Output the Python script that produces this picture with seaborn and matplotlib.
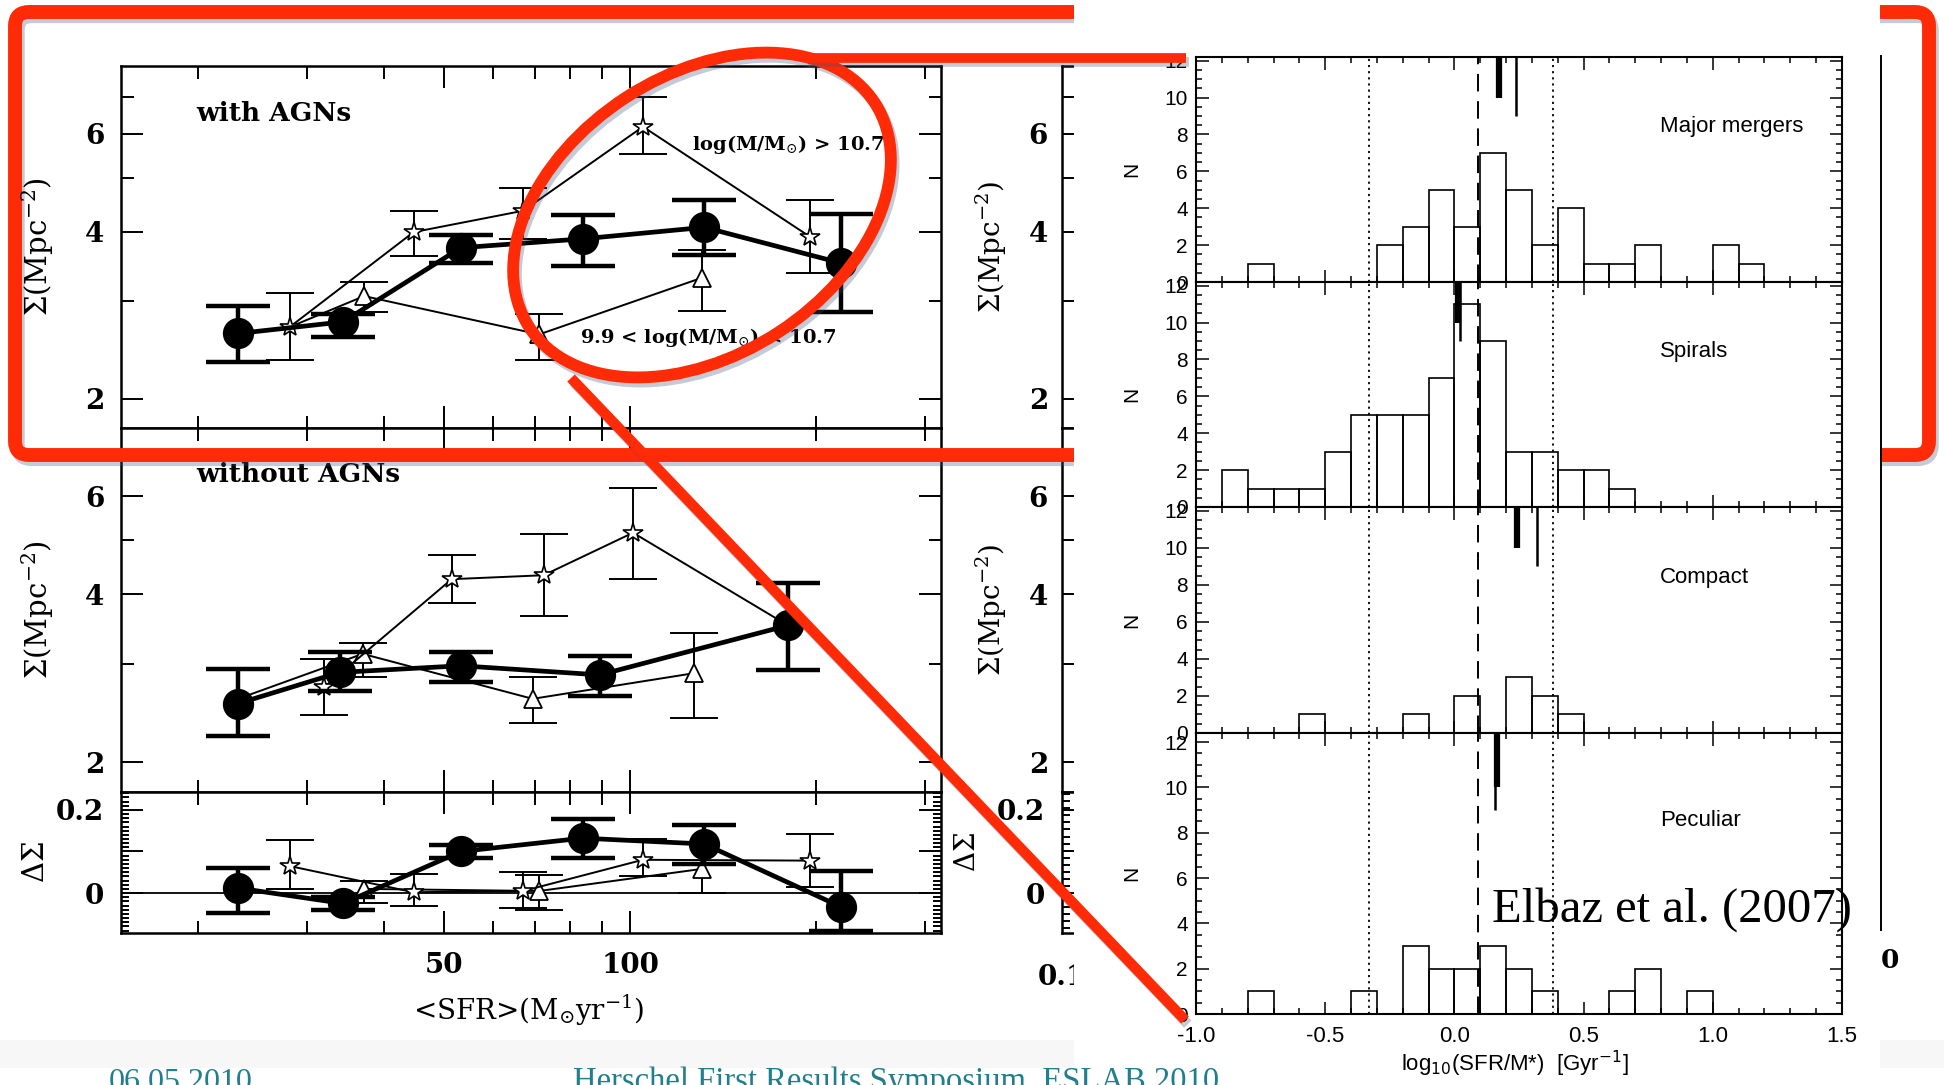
import numpy as np
import pandas as pd
import matplotlib
matplotlib.use('Agg')
import matplotlib.pyplot as plt
import seaborn as sns
from matplotlib.patches import Rectangle, Ellipse, FancyBboxPatch
from matplotlib.lines import Line2D
import matplotlib.patheffects as pe
from matplotlib.ticker import NullFormatter, MultipleLocator

# ------------------------------------------------------------------ data
# left figure: with AGNs (top panel)
agn_all_sfr = [23.2, 34.3, 53.2, 83.7, 131.7, 219.0]
agn_all_sig = [2.62, 2.75, 3.74, 3.88, 4.07, 3.51]
agn_all_lo = [2.33, 2.58, 3.51, 3.46, 3.63, 2.86]
agn_all_hi = [2.94, 2.84, 3.94, 4.29, 4.56, 4.30]

agn_hi_sfr = [28.1, 44.6, 67.1, 104.8, 195.5]
agn_hi_sig = [2.69, 3.99, 4.36, 6.18, 3.91]
agn_hi_lo = [2.35, 3.62, 3.88, 5.52, 3.37]
agn_hi_hi = [3.10, 4.36, 4.80, 7.00, 4.56]

agn_mid_sfr = [28.1, 37.1, 71.2, 130.4]
agn_mid_sig = [2.69, 3.06, 2.61, 3.30]
agn_mid_lo = [None, 2.86, 2.35, 2.88]
agn_mid_hi = [None, 3.24, 2.84, 3.71]

# without AGNs (middle panel)
noagn_all_sfr = [23.2, 33.9, 53.2, 89.2, 179.8]
noagn_all_sig = [2.55, 2.90, 2.98, 2.87, 3.52]
noagn_all_lo = [2.23, 2.68, 2.79, 2.63, 2.93]
noagn_all_hi = [2.94, 3.15, 3.16, 3.10, 4.20]

noagn_hi_sfr = [32.0, 51.4, 72.4, 101.0, 179.8]
noagn_hi_sig = [2.73, 4.26, 4.33, 5.16, 3.52]
noagn_hi_lo = [2.43, 3.86, 3.66, 4.26, None]
noagn_hi_hi = [3.06, 4.70, 5.14, 6.21, None]

noagn_mid_sfr = [23.2, 36.9, 69.5, 126.8]
noagn_mid_sig = [2.60, 3.13, 2.60, 2.89]
noagn_mid_lo = [None, 2.85, 2.35, 2.40]
noagn_mid_hi = [None, 3.27, 2.85, 3.41]

# Delta Sigma panel
dsig_all_sfr = [23.2, 34.3, 53.2, 83.7, 131.7, 219.0]
dsig_all = [0.012, -0.025, 0.100, 0.132, 0.118, -0.033]
dsig_all_lo = [-0.048, -0.040, 0.085, 0.085, 0.070, -0.090]
dsig_all_hi = [0.060, -0.010, 0.115, 0.178, 0.163, 0.052]

dsig_hi_sfr = [28.1, 44.6, 67.1, 104.8, 195.5]
dsig_hi = [0.065, 0.002, 0.005, 0.080, 0.078]
dsig_hi_lo = [0.010, -0.030, -0.037, 0.040, 0.015]
dsig_hi_hi = [0.128, 0.045, 0.050, 0.130, 0.142]

dsig_mid_sfr = [37.1, 71.2, 130.4]
dsig_mid = [0.010, 0.005, 0.058]
dsig_mid_lo = [-0.025, -0.040, 0.000]
dsig_mid_hi = [0.030, 0.043, 0.070]

sfr_major_ticks = [50, 100]
sfr_minor_ticks = [20, 30, 40, 60, 70, 80, 90, 200, 300]

# right figure: histograms of log10(SFR/M*)
hist_names = ['Major mergers', 'Spirals', 'Compact', 'Peculiar']
mm_left = [-0.8, -0.3, -0.2, -0.1, 0.0, 0.1, 0.2, 0.3, 0.4, 0.5, 0.6, 0.7, 1.0, 1.1]
mm_n = [1, 2, 3, 5, 3, 7, 5, 2, 4, 1, 1, 2, 2, 1]
sp_left = [-0.9, -0.8, -0.7, -0.6, -0.5, -0.4, -0.3, -0.2, -0.1, 0.0, 0.1, 0.2, 0.3, 0.4, 0.5, 0.6]
sp_n = [2, 1, 1, 1, 3, 5, 5, 5, 7, 11, 9, 3, 3, 2, 2, 1]
cp_left = [-0.6, -0.2, 0.0, 0.2, 0.3, 0.4]
cp_n = [1, 1, 2, 3, 2, 1]
pc_left = [-0.8, -0.4, -0.2, -0.1, 0.0, 0.1, 0.2, 0.3, 0.6, 0.7, 0.9]
pc_n = [1, 1, 3, 2, 2, 3, 2, 1, 1, 2, 1]
mean_thick = [0.173, 0.013, 0.243, 0.166]
mean_thin = [0.237, 0.023, 0.318, 0.156]
dotted_x = [-0.33, 0.38]
dashed_x = 0.09
hist_xticks = [-1.0, -0.5, 0.0, 0.5, 1.0, 1.5]
hist_xticklabels = ['-1.0', '-0.5', '0.0', '0.5', '1.0', '1.5']
hist_yticks = [0, 2, 4, 6, 8, 10, 12]

# ------------------------------------------------------------------ setup
W, H = 1944, 1085
RED = '#ff2a06'
TEAL = '#1f7f8e'
plt.rcParams['font.family'] = ['DejaVu Serif']
plt.rcParams['mathtext.fontset'] = 'dejavuserif'
SANS = ['Liberation Sans', 'DejaVu Sans']

fig = plt.figure(figsize=(W / 100, H / 100), dpi=100)
fig.patch.set_facecolor('white')


def rect(x0, y0, x1, y1):
    return [x0 / W, 1 - y1 / H, (x1 - x0) / W, (y1 - y0) / H]


SIG_LIM = (1.77, 7.95)
D_LIM = (-0.096, 0.243)
SFR_LIM = (15.0, 318.0)


def style_sfr_x(ax, labels=False):
    ax.set_xscale('log')
    ax.set_xlim(*SFR_LIM)
    ax.set_xticks(sfr_major_ticks)
    ax.set_xticklabels([str(v) for v in sfr_major_ticks] if labels else [])
    ax.set_xticks(sfr_minor_ticks, minor=True)
    ax.xaxis.set_minor_formatter(NullFormatter())


def style_common(ax):
    ax.tick_params(which='both', direction='in', top=True, right=True, width=1.4)
    ax.tick_params(which='major', length=16, labelsize=20, pad=12)
    ax.tick_params(which='minor', length=9)
    for s in ax.spines.values():
        s.set_linewidth(1.8)
    for lbl in ax.get_xticklabels() + ax.get_yticklabels():
        lbl.set_fontweight('bold')


def style_sigma(ax):
    ax.set_yscale('log')
    ax.set_ylim(*SIG_LIM)
    ax.set_yticks([2, 4, 6])
    ax.set_yticklabels(['2', '4', '6'])
    ax.set_yticks([3, 5, 7], minor=True)
    ax.yaxis.set_minor_formatter(NullFormatter())
    style_sfr_x(ax)
    style_common(ax)


def style_delta(ax, xlabels=True, minor_step=0.01):
    ax.set_ylim(*D_LIM)
    ax.set_yticks([0, 0.1, 0.2])
    ax.set_yticklabels(['0', '', '0.2'])
    ax.yaxis.set_minor_locator(MultipleLocator(minor_step))
    style_sfr_x(ax, labels=xlabels)
    style_common(ax)
    ax.tick_params(axis='y', which='minor', length=6)
    ax.tick_params(axis='x', which='major', pad=14)


def draw_series(ax, x, y, lo, hi, kind, skip_first=False):
    x = np.array(x, float)
    y = np.array(y, float)
    if kind == 'all':
        mk = dict(marker='o', markersize=21.5, markerfacecolor='black',
                  markeredgecolor='black', markeredgewidth=1, lw=3.4, zorder=6)
        ek = dict(elinewidth=3.2, capsize=23, capthick=3.2, zorder=6)
    elif kind == 'hi':
        mk = dict(marker='*', markersize=15, markerfacecolor='white',
                  markeredgecolor='black', markeredgewidth=1.2, lw=1.4, zorder=5)
        ek = dict(elinewidth=1.4, capsize=17, capthick=1.4, zorder=4)
    else:
        mk = dict(marker='^', markersize=13, markerfacecolor='white',
                  markeredgecolor='black', markeredgewidth=1.3, lw=1.4, zorder=4)
        ek = dict(elinewidth=1.4, capsize=17, capthick=1.4, zorder=3)
    if skip_first:
        mk['markevery'] = list(range(1, len(x)))
    sns.lineplot(x=x, y=y, ax=ax, sort=False, estimator=None, color='black',
                 legend=False, **mk)
    idx = [i for i in range(len(x)) if lo[i] is not None]
    if idx:
        xs = x[idx]
        ys = y[idx]
        l = np.array([lo[i] for i in idx], float)
        h = np.array([hi[i] for i in idx], float)
        ax.errorbar(xs, ys, yerr=[ys - l, h - ys], fmt='none', ecolor='black', **ek)


# ------------------------------------------------------------------ left figure
axU = fig.add_axes(rect(121, 66, 941, 428), zorder=0)
axL = fig.add_axes(rect(121, 428, 941, 792), zorder=0)
axD = fig.add_axes(rect(121, 792, 941, 933), zorder=0)

draw_series(axU, agn_mid_sfr, agn_mid_sig, agn_mid_lo, agn_mid_hi, 'mid', skip_first=True)
draw_series(axU, agn_hi_sfr, agn_hi_sig, agn_hi_lo, agn_hi_hi, 'hi')
draw_series(axU, agn_all_sfr, agn_all_sig, agn_all_lo, agn_all_hi, 'all')

draw_series(axL, noagn_mid_sfr, noagn_mid_sig, noagn_mid_lo, noagn_mid_hi, 'mid', skip_first=True)
draw_series(axL, noagn_hi_sfr, noagn_hi_sig, noagn_hi_lo, noagn_hi_hi, 'hi')
draw_series(axL, noagn_all_sfr, noagn_all_sig, noagn_all_lo, noagn_all_hi, 'all')

axD.axhline(0, color='black', lw=1.3, zorder=1)
draw_series(axD, dsig_mid_sfr, dsig_mid, dsig_mid_lo, dsig_mid_hi, 'mid')
draw_series(axD, dsig_hi_sfr, dsig_hi, dsig_hi_lo, dsig_hi_hi, 'hi')
draw_series(axD, dsig_all_sfr, dsig_all, dsig_all_lo, dsig_all_hi, 'all')

for ax in (axU, axL):
    style_sigma(ax)
    ax.set_xlabel('')
    ax.set_ylabel('')
style_delta(axD)
axD.set_xlabel('')
axD.set_ylabel('')

axU.text(0.0915, 0.870, 'with AGNs', transform=axU.transAxes, fontsize=19,
         fontweight='bold', va='center', ha='left')
axL.text(0.0915, 0.871, 'without AGNs', transform=axL.transAxes, fontsize=19,
         fontweight='bold', va='center', ha='left')
axU.text(0.696, 0.782, r'log(M/M$_{\odot}$) > 10.7', transform=axU.transAxes,
         fontsize=14, fontweight='bold', va='center', ha='left')
axU.text(0.560, 0.249, r'9.9 < log(M/M$_{\odot}$) < 10.7', transform=axU.transAxes,
         fontsize=14, fontweight='bold', va='center', ha='left')

fig.text(38 / W, 1 - 247 / H, r'$\Sigma$(Mpc$^{-2}$)', rotation=90, ha='center',
         va='center', fontsize=21)
fig.text(38 / W, 1 - 610 / H, r'$\Sigma$(Mpc$^{-2}$)', rotation=90, ha='center',
         va='center', fontsize=21)
fig.text(36 / W, 1 - 862 / H, r'$\Delta\Sigma$', rotation=90, ha='center',
         va='center', fontsize=21)
fig.text(529 / W, 1 - 1010 / H, r'<SFR>(M$_{\odot}$yr$^{-1}$)', ha='center',
         va='center', fontsize=20)

# ------------------------------------------------------------------ partly hidden second figure
hU = fig.add_axes(rect(1062, 66, 1700, 428), zorder=0)
hL = fig.add_axes(rect(1062, 428, 1700, 792), zorder=0)
hD = fig.add_axes(rect(1062, 792, 1700, 933), zorder=0)
for ax in (hU, hL):
    style_sigma(ax)
    ax.set_xlim(0.1, 10)
    ax.set_xticks([], minor=True)
    ax.set_xticks([])
for ax in (hU, hL, hD):
    ax.tick_params(which='major', pad=10)
style_delta(hD, xlabels=False, minor_step=0.017)
hD.set_xlim(0.1, 10)
hD.set_xticks([0.1])
hD.set_xticklabels(['0.1'])
hD.set_xticks([], minor=True)
hD.tick_params(axis='x', which='major', length=0, pad=22)
for lbl in hD.get_xticklabels() + hD.get_yticklabels():
    lbl.set_fontweight('bold')
fig.text(991 / W, 1 - 247 / H, r'$\Sigma$(Mpc$^{-2}$)', rotation=90, ha='center',
         va='center', fontsize=20)
fig.text(991 / W, 1 - 610 / H, r'$\Sigma$(Mpc$^{-2}$)', rotation=90, ha='center',
         va='center', fontsize=20)
fig.text(967 / W, 1 - 852 / H, r'$\Delta\Sigma$', rotation=90, ha='center',
         va='center', fontsize=20)

# ------------------------------------------------------------------ low overlay: red frame + slide texture
shadow = [pe.SimpleLineShadow(offset=(2, -3), shadow_color='#3d5578', alpha=0.3), pe.Normal()]

ov_low = fig.add_axes([0, 0, 1, 1], zorder=1)
ov_low.set_xlim(0, W)
ov_low.set_ylim(H, 0)
ov_low.axis('off')
ov_low.patch.set_alpha(0)
ov_low.add_patch(Rectangle((0, 1040), 1074, 28, fc='#f7f7f7', ec='none'))
ov_low.add_patch(Rectangle((1880, 1040), 64, 28, fc='#f7f7f7', ec='none'))
ov_low.add_patch(FancyBboxPatch((15, 12), 1914, 443,
                                boxstyle='round,pad=0,rounding_size=14',
                                fill=False, ec=RED, lw=10, path_effects=shadow))

# white box of the right figure
ov_mid = fig.add_axes([0, 0, 1, 1], zorder=2)
ov_mid.set_xlim(0, W)
ov_mid.set_ylim(H, 0)
ov_mid.axis('off')
ov_mid.patch.set_alpha(0)
ov_mid.add_patch(Rectangle((1074, 0), 806, 1085, fc='white', ec='none'))

# ------------------------------------------------------------------ right figure: histograms
hist_rows = [(57, 282), (282, 507), (507, 733), (733, 1014)]
hist_tops = [12.2, 12.2, 12.2, 12.4]
hist_left = [mm_left, sp_left, cp_left, pc_left]
hist_n = [mm_n, sp_n, cp_n, pc_n]
edges = [round(v * 0.1, 2) for v in range(-10, 16)]

for i, (y0, y1) in enumerate(hist_rows):
    ax = fig.add_axes(rect(1196, y0, 1842, y1), zorder=3)
    df = pd.DataFrame({'x': np.array(hist_left[i]) + 0.05, 'n': hist_n[i]})
    sns.histplot(data=df, x='x', weights='n', bins=edges, ax=ax, fill=False,
                 color='black', linewidth=1.2, element='bars')
    ax.set_xlim(-1.0, 1.5)
    ax.set_ylim(0, hist_tops[i])
    ax.set_xlabel('')
    ax.set_ylabel('')
    for xv in dotted_x:
        ax.axvline(xv, color='black', lw=1.3, ls=(0, (1.2, 2.2)))
    ax.axvline(dashed_x, color='black', lw=1.4, ls=(0, (9, 5)))
    ax.vlines(mean_thick[i], 10, hist_tops[i], color='black', lw=4.5)
    ax.vlines(mean_thin[i], 9, hist_tops[i], color='black', lw=1.8)
    ax.set_xticks(hist_xticks)
    ax.xaxis.set_minor_locator(MultipleLocator(0.1))
    ax.set_yticks(hist_yticks)
    ax.set_yticklabels([str(v) for v in hist_yticks])
    ax.yaxis.set_minor_locator(MultipleLocator(0.5))
    if i == 3:
        ax.set_xticklabels(hist_xticklabels)
    else:
        ax.set_xticklabels([])
    ax.tick_params(which='both', direction='in', top=True, right=True, width=1.1)
    ax.tick_params(which='major', length=9, pad=6)
    ax.tick_params(which='minor', length=4.5)
    ax.tick_params(axis='y', labelsize=15)
    ax.tick_params(axis='x', labelsize=16, pad=9)
    for lbl in ax.get_xticklabels() + ax.get_yticklabels():
        lbl.set_fontfamily(SANS)
    for s in ax.spines.values():
        s.set_linewidth(1.5)
    ax.text(0.718, 0.69, hist_names[i], transform=ax.transAxes, ha='left',
            va='center', fontsize=16, family=SANS)
    fig.text(1132 / W, 1 - (y0 + y1) / 2 / H, 'N', rotation=90, ha='center',
             va='center', fontsize=15, family=SANS)

fig.text(1515 / W, 1 - 1064 / H, r'log$_{10}$(SFR/M*)  [Gyr$^{-1}$]', ha='center',
         va='center', fontsize=16, family=SANS, math_fontfamily='dejavusans')

# ------------------------------------------------------------------ top overlay: highlight, connectors, texts
ov = fig.add_axes([0, 0, 1, 1], zorder=5)
ov.set_xlim(0, W)
ov.set_ylim(H, 0)
ov.axis('off')
ov.patch.set_alpha(0)
ov.add_line(Line2D([1881, 1881], [56, 930], color='black', lw=1.4))
ov.text(1890, 961, '0', ha='center', va='center', fontsize=19, fontweight='bold')
ov.add_patch(Ellipse((702, 215), 412, 280, angle=-33, fill=False, ec=RED, lw=8.5,
                     path_effects=shadow))
ov.add_line(Line2D([805, 1186], [58, 58], color=RED, lw=7, solid_capstyle='butt',
                   path_effects=shadow))
ov.add_line(Line2D([571, 1185], [378, 1020], color=RED, lw=7.5, solid_capstyle='butt',
                   path_effects=shadow))
ov.text(1492, 922, 'Elbaz et al. (2007)', ha='left', va='baseline', fontsize=35,
        family=['Liberation Serif', 'DejaVu Serif'])

fig.text(109 / W, 1 - 1090 / H, '06.05.2010', ha='left', va='baseline', fontsize=23,
         color=TEAL, family=['Liberation Serif', 'DejaVu Serif'], zorder=10)
fig.text(573 / W, 1 - 1090 / H, 'Herschel First Results Symposium, ESLAB 2010',
         ha='left', va='baseline', fontsize=23.5, color=TEAL,
         family=['Liberation Serif', 'DejaVu Serif'], zorder=10)

fig.savefig('out.png', dpi=100)
